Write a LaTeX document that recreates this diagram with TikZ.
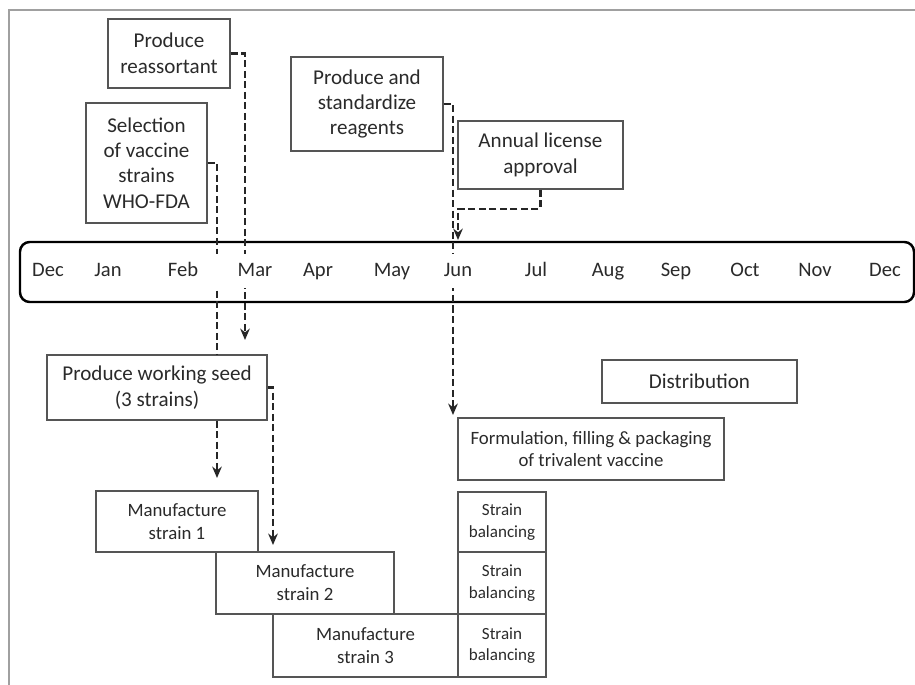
\documentclass[tikz,border=0pt]{standalone}
\usepackage{fontspec}
\setmainfont{Carlito}
\usetikzlibrary{arrows.meta}
\definecolor{boxline}{HTML}{555555}
\definecolor{txt}{HTML}{2A2A2A}
\definecolor{frame}{HTML}{A0A0A0}

\begin{document}
\begin{tikzpicture}[x=0.02cm, y=-0.02cm,
    box/.style={draw=boxline, line width=0.75pt, text=txt, align=center, inner sep=0pt},
    big/.style={font=\fontsize{12}{14.5}\selectfont},
    small/.style={font=\fontsize{10.7}{13}\selectfont},
    tiny/.style={font=\fontsize{9.7}{12.3}\selectfont},
    wh/.style 2 args={minimum width=#1*0.02cm, minimum height=#2*0.02cm},
    dep/.style={dash pattern=on 4pt off 2pt, line width=1.3pt, black!85},
    tip/.style={-{Stealth[length=6.5pt, width=5.5pt]}},
    month/.style={text=txt, font=\fontsize{11.7}{14}\selectfont, text height=1.6ex, text depth=0.5ex}]
    \useasboundingbox (0,0) rectangle (915,685);

    % Rahmen
    \draw[frame, line width=1pt] (9,685) -- (9,10) -- (915,10);

    % Obere Kaesten
    \node[box, big, wh={122}{69}] (reas) at (169,53.5) {Produce\\reassortant};
    \node[box, big, wh={121}{120}] (sel) at (146.5,163) {Selection\\of vaccine\\strains\\WHO-FDA};
    \node[box, big, wh={152}{94}] (reag) at (367,104) {Produce and\\standardize\\reagents};
    \node[box, big, wh={165}{68}] (lic) at (540.5,155) {Annual license\\approval};

    % Zeitleiste
    \node[draw, line width=1.4pt, rounded corners=5.5pt, wh={894}{60}] (tl) at (467,272) {};

    % Untere Kaesten
    \node[box, big, wh={220}{65}] (seed) at (157,387.5) {Produce working seed\\(3 strains)};
    \node[box, big, wh={195}{43}] (dist) at (699.5,381.5) {Distribution};
    \node[box, small, wh={266}{62}] (form) at (591,449) {Formulation, filling \& packaging\\of trivalent vaccine};
    \node[box, small, wh={162}{61}] (man1) at (177,521.5) {Manufacture\\strain 1};
    \node[box, small, wh={178}{62}] (man2) at (305,583) {Manufacture\\strain 2};
    \node[box, small, wh={185}{63}] (man3) at (365.5,645.5) {Manufacture\\strain 3};
    \node[box, tiny, wh={88}{60}] (bal1) at (502,522) {Strain\\balancing};
    \node[box, tiny, wh={88}{62}] (bal2) at (502,583) {Strain\\balancing};
    \node[box, tiny, wh={88}{63}] (bal3) at (502,645.5) {Strain\\balancing};

    % Pfeilenden
    \coordinate (seedin) at (245,340);
    \coordinate (m1in) at (217,478);
    \coordinate (m2in) at (273,545);
    \coordinate (formin) at (453,415);
    \coordinate (tlin) at (458,240);

    % Abhaengigkeiten
    \draw[dep] (sel.east) -| (m1in |- seed.north);
    \draw[dep, tip] (reas.east) -| (seedin);
    \draw[dep, tip] (m1in |- seed.south) -- (m1in);
    \draw[dep, tip] (seed.east) -| (m2in);
    \draw[dep, tip] (reag.east) -| (formin);
    \draw[dep, tip] (lic.south) -- ++(0,19) -| (tlin);

    % Monate
    \fill[white] (25,254) rectangle (909,288);
    \foreach \m/\x [count=\i] in {Dec/48, Jan/108, Feb/183, Mar/255, Apr/318, May/392,
        Jun/458, Jul/536, Aug/608, Sep/676, Oct/745, Nov/815, Dec/885}
        \node[month] (mon\i) at (\x,272) {\m};
\end{tikzpicture}
\end{document}
